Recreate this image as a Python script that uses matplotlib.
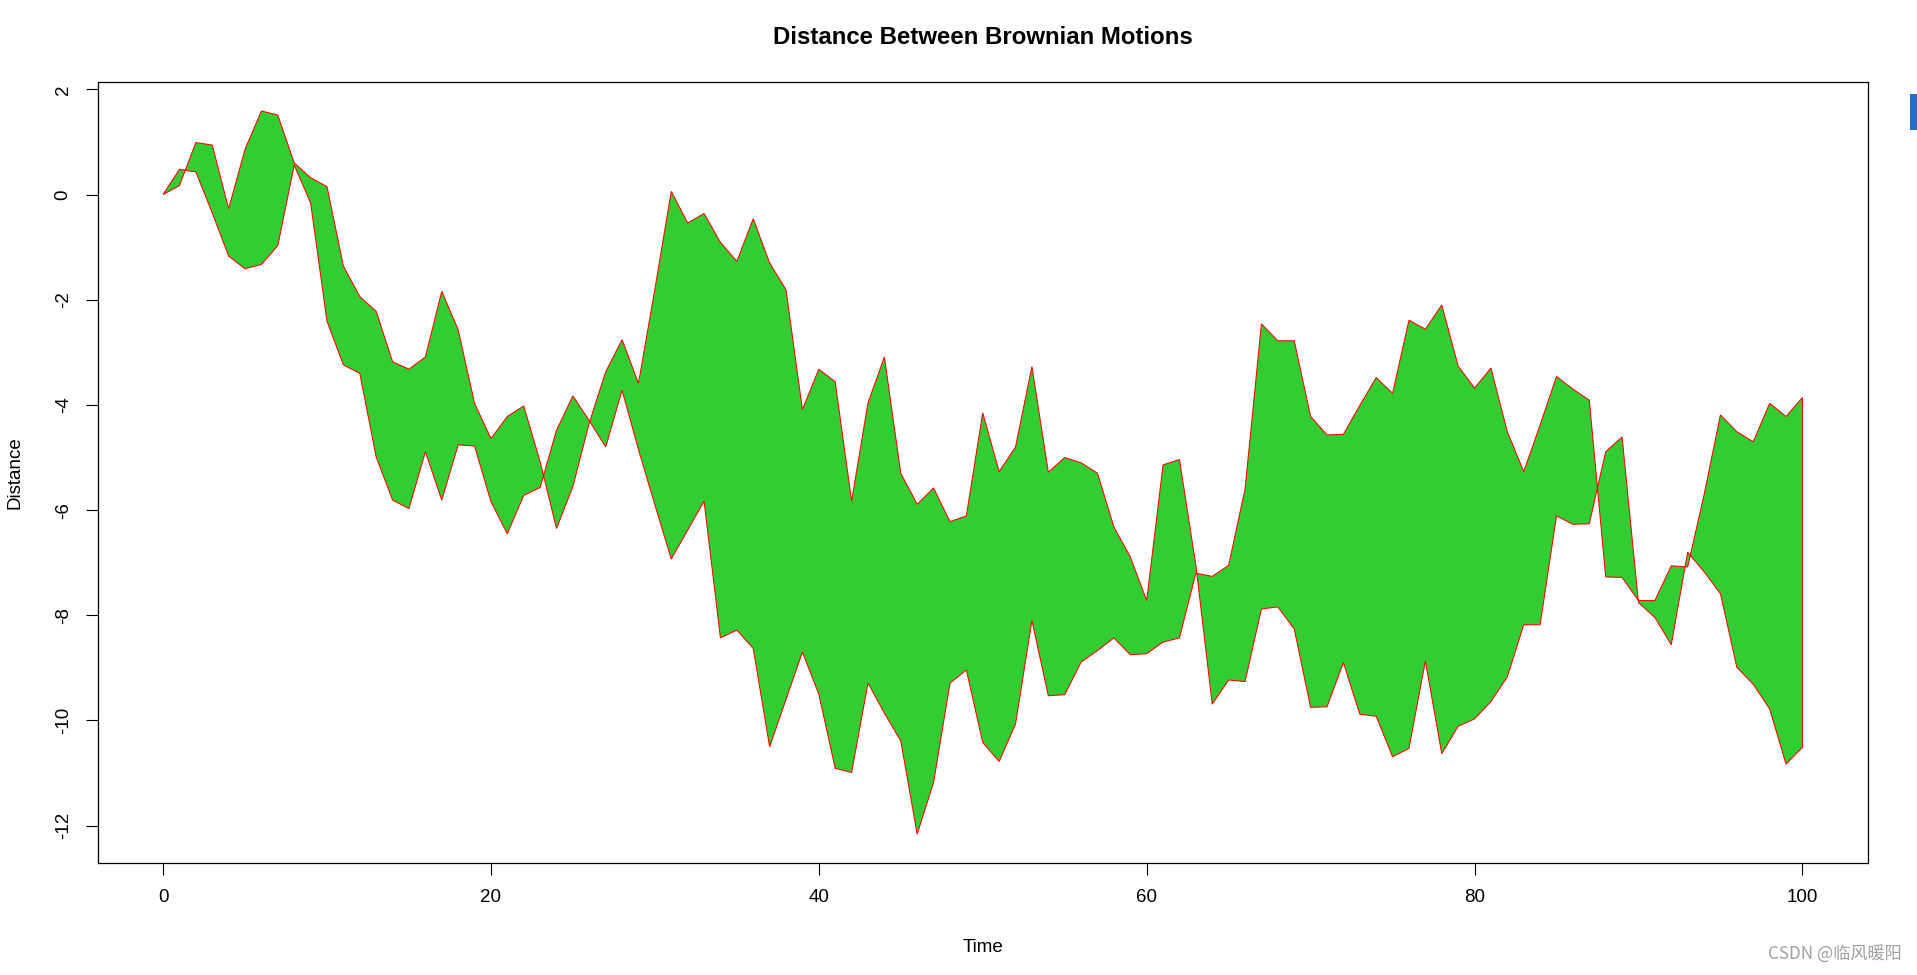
import numpy as np
import matplotlib
matplotlib.use("Agg")
import matplotlib.pyplot as plt
from matplotlib.patches import Rectangle

plt.rcParams['font.family'] = ['Liberation Sans', 'Noto Sans CJK SC', 'DejaVu Sans']

time = np.arange(0, 101)
motion_a = [0.00, 0.48, 0.43, -0.35, -1.17, -1.41, -1.33, -0.97, 0.56, -0.16,
            -2.41, -3.24, -3.40, -4.99, -5.81, -5.97, -4.89, -5.81, -4.76, -4.78,
            -5.84, -6.45, -5.72, -5.57, -4.48, -3.83, -4.30, -4.80, -3.72, -4.85,
            -5.90, -6.93, -6.38, -5.83, -8.43, -8.28, -8.63, -10.50, -9.60, -8.70,
            -9.50, -10.91, -10.99, -9.29, -9.86, -10.39, -12.16, -11.18, -9.29, -9.04,
            -10.42, -10.78, -10.07, -8.10, -9.53, -9.51, -8.89, -8.67, -8.43, -8.75,
            -8.73, -8.51, -8.43, -7.20, -7.26, -7.05, -5.60, -2.46, -2.78, -2.78,
            -4.22, -4.57, -4.56, -4.01, -3.48, -3.78, -2.39, -2.56, -2.10, -3.26,
            -3.68, -3.30, -4.51, -5.27, -4.38, -3.46, -3.70, -3.91, -7.27, -7.28,
            -7.72, -7.72, -7.06, -7.08, -5.71, -4.19, -4.51, -4.70, -3.97, -4.22,
            -3.86]
motion_b = [0.00, 0.17, 0.99, 0.94, -0.27, 0.86, 1.59, 1.51, 0.60, 0.32,
            0.15, -1.36, -1.94, -2.22, -3.18, -3.32, -3.09, -1.84, -2.57, -3.97,
            -4.64, -4.22, -4.02, -5.08, -6.35, -5.55, -4.34, -3.37, -2.76, -3.59,
            -1.80, 0.06, -0.54, -0.36, -0.91, -1.27, -0.46, -1.30, -1.81, -4.09,
            -3.32, -3.56, -5.83, -3.96, -3.09, -5.30, -5.89, -5.58, -6.22, -6.11,
            -4.15, -5.27, -4.80, -3.27, -5.28, -5.00, -5.10, -5.30, -6.32, -6.89,
            -7.72, -5.14, -5.04, -7.05, -9.69, -9.23, -9.26, -7.88, -7.84, -8.26,
            -9.75, -9.74, -8.90, -9.88, -9.92, -10.69, -10.53, -8.87, -10.63, -10.11,
            -9.97, -9.64, -9.17, -8.18, -8.18, -6.11, -6.27, -6.26, -4.89, -4.61,
            -7.76, -8.04, -8.56, -6.80, -7.17, -7.59, -8.99, -9.31, -9.78, -10.83,
            -10.51]
x_ticks = [0, 20, 40, 60, 80, 100]
y_ticks = [2, 0, -2, -4, -6, -8, -10, -12]

title = "Distance Between Brownian Motions"
xlabel = "Time"
ylabel = "Distance"

W, H = 1917, 975
fig = plt.figure(figsize=(W / 100, H / 100), dpi=100)
L, R, T, B = 97.5, 1868, 82, 863
ax = fig.add_axes([L / W, 1 - B / H, (R - L) / W, (B - T) / H])

a = np.array(motion_a)
b = np.array(motion_b)
px = np.concatenate([time, time[::-1]])
py = np.concatenate([a, b[::-1]])
ax.fill(px, py, facecolor='#32CD32', edgecolor='red', linewidth=0.75)

xr = time.max() - time.min()
ax.set_xlim(time.min() - 0.04 * xr, time.max() + 0.04 * xr)
ymin = min(a.min(), b.min())
ymax = max(a.max(), b.max())
yr = ymax - ymin
ax.set_ylim(ymin - 0.04 * yr, ymax + 0.04 * yr)

ax.set_xticks(x_ticks)
ax.set_xticklabels([str(v) for v in x_ticks])
ax.set_yticks(y_ticks)
ax.set_yticklabels([str(v) for v in y_ticks], rotation=90, va='center')
ax.tick_params(axis='both', direction='out', length=8.6, width=0.8,
               labelsize=13.5, pad=10, color='black')
for s in ax.spines.values():
    s.set_linewidth(0.9)
    s.set_color('black')

fig.text((L + R) / 2 / W, 1 - 38 / H, title, ha='center', va='center',
         fontsize=17.3, fontweight='bold')
fig.text((L + R) / 2 / W, 1 - 947 / H, xlabel, ha='center', va='center', fontsize=13.5)
fig.text(15 / W, 1 - (T + B) / 2 / H, ylabel, ha='center', va='center',
         fontsize=13.5, rotation=90)

fig.text(1902 / W, 1 - 955 / H, "CSDN @临风暖阳", ha='right', va='center',
         fontsize=12.3, color='#a0a0a0', family=['Noto Sans CJK SC', 'DejaVu Sans'])

fig.patches.append(Rectangle((1910 / W, 1 - 130 / H), 7 / W, 36 / H,
                             transform=fig.transFigure, facecolor='#1e6fd0',
                             edgecolor='none'))

fig.savefig('out.png', dpi=100)
